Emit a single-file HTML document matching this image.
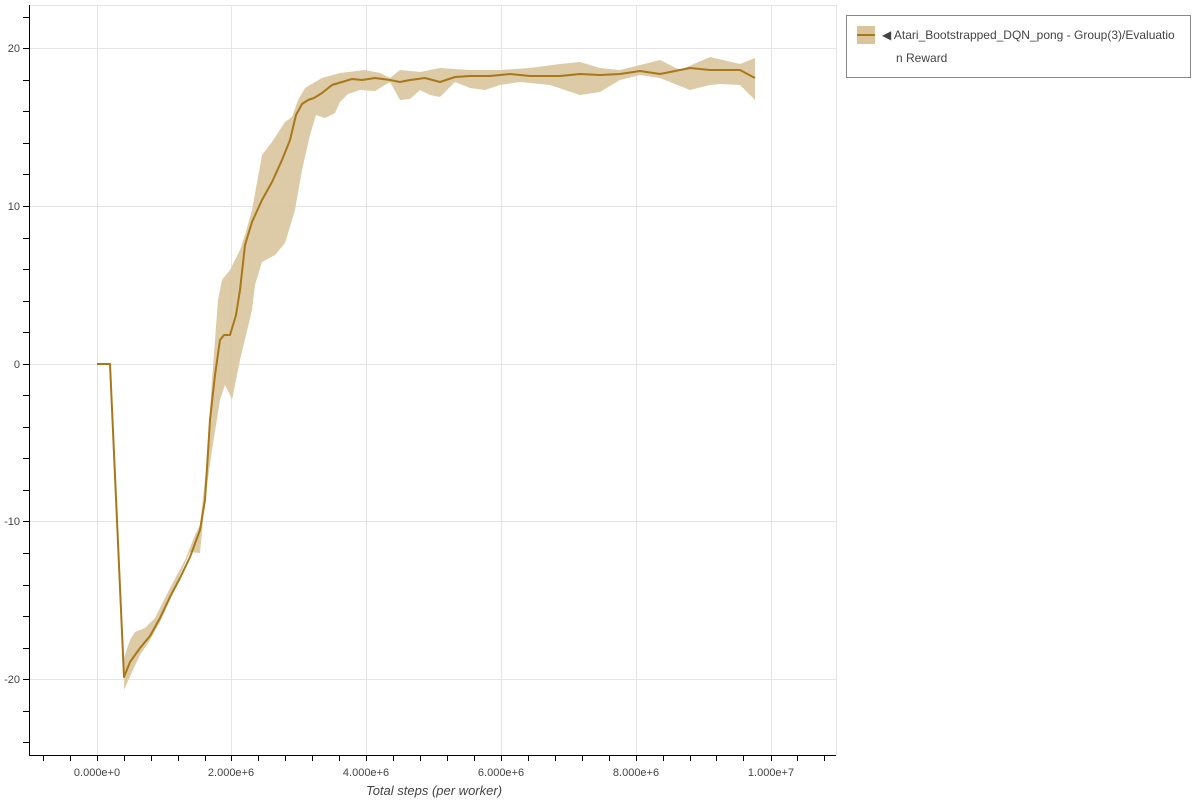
<!DOCTYPE html>
<html><head><meta charset="utf-8"><style>
body{margin:0;background:#fff;font-family:"Liberation Sans",sans-serif}
</style></head><body>
<svg width="1200" height="800" xmlns="http://www.w3.org/2000/svg" font-family="Liberation Sans, sans-serif">
<rect width="1200" height="800" fill="#fff"/>
<g stroke="#e5e5e5" stroke-width="1">
<line x1="97.5" y1="5" x2="97.5" y2="755"/><line x1="231.5" y1="5" x2="231.5" y2="755"/>
<line x1="366.5" y1="5" x2="366.5" y2="755"/><line x1="501.5" y1="5" x2="501.5" y2="755"/>
<line x1="636.5" y1="5" x2="636.5" y2="755"/><line x1="771.5" y1="5" x2="771.5" y2="755"/>
<line x1="29" y1="48.5" x2="836" y2="48.5"/><line x1="29" y1="206.5" x2="836" y2="206.5"/>
<line x1="29" y1="364.5" x2="836" y2="364.5"/><line x1="29" y1="521.5" x2="836" y2="521.5"/>
<line x1="29" y1="679.5" x2="836" y2="679.5"/>
<line x1="29" y1="5.5" x2="836" y2="5.5"/><line x1="836.5" y1="5" x2="836.5" y2="755"/>
</g>
<path fill="#d9c49c" fill-opacity="0.9" stroke="none" d="M124,658 L130,640 L135,632 L145,628 L155,618 L170,588 L185,560 L195,535 L200,525 L206,470 L212,380 L218,300 L222,280 L230,270 L240,250 L245,235 L252,210 L262,155 L272,142 L285,122 L292,117 L298,100 L305,88 L310,85 L322,78 L340,73 L365,70 L380,73 L390,78 L400,70 L420,72 L440,68 L470,70 L500,70 L530,68 L560,64 L580,62 L600,68 L620,70 L640,65 L660,60 L680,70 L710,57 L740,64 L755,58 L755,100 L740,85 L720,84 L710,85 L690,90 L660,78 L640,75 L620,80 L600,92 L580,95 L550,85 L520,82 L500,85 L485,90 L470,88 L455,82 L440,97 L430,95 L420,90 L410,99 L400,100 L390,82 L375,91 L360,90 L348,94 L340,102 L335,113 L325,118 L316,115 L310,135 L302,170 L295,210 L285,243 L275,255 L262,262 L255,285 L252,310 L240,360 L232,400 L230,395 L225,385 L220,400 L212,450 L205,500 L200,553 L190,552 L180,575 L170,600 L160,622 L150,640 L140,655 L132,672 L124,690 Z"/>
<path fill="none" stroke="#a87818" stroke-width="2" stroke-linejoin="round" d="M97,364 L110,364 L124,677 L130,662 L140,648 L150,636 L160,618 L170,597 L180,578 L190,557 L200,530 L205,500 L210,420 L215,375 L220,340 L224,335 L230,335 L236,315 L240,290 L245,245 L252,222 L262,200 L272,182 L282,160 L290,140 L296,115 L302,104 L308,100 L314,98 L322,93 L332,85 L342,82 L352,79 L362,80 L375,78 L390,80 L400,82 L410,80 L425,78 L440,82 L455,77 L470,76 L490,76 L510,74 L530,76 L560,76 L580,74 L600,75 L620,74 L640,71 L660,74 L690,68 L710,70 L740,70 L755,78"/>
<g stroke="#000" stroke-width="1">
<line x1="29.5" y1="5" x2="29.5" y2="756"/><line x1="29" y1="755.5" x2="836" y2="755.5"/>
<path d="M43.5,755V761M70.5,755V761M97.5,755V761M124.5,755V761M151.5,755V761M178.5,755V761M205.5,755V761M231.5,755V761M258.5,755V761M285.5,755V761M312.5,755V761M339.5,755V761M366.5,755V761M393.5,755V761M420.5,755V761M447.5,755V761M474.5,755V761M501.5,755V761M528.5,755V761M555.5,755V761M582.5,755V761M609.5,755V761M636.5,755V761M663.5,755V761M690.5,755V761M716.5,755V761M743.5,755V761M771.5,755V761M797.5,755V761M824.5,755V761"/>
<path d="M23,17.5H29M23,48.5H29M23,80.5H29M23,111.5H29M23,143.5H29M23,174.5H29M23,206.5H29M23,238.5H29M23,269.5H29M23,301.5H29M23,332.5H29M23,364.5H29M23,395.5H29M23,427.5H29M23,458.5H29M23,490.5H29M23,521.5H29M23,553.5H29M23,585.5H29M23,616.5H29M23,648.5H29M23,679.5H29M23,711.5H29M23,742.5H29"/>
</g>
<g font-size="11" fill="#444" text-anchor="middle">
<text x="97" y="776">0.000e+0</text><text x="231" y="776">2.000e+6</text>
<text x="366" y="776">4.000e+6</text><text x="501" y="776">6.000e+6</text>
<text x="636" y="776">8.000e+6</text><text x="771" y="776">1.000e+7</text>
</g>
<g font-size="11" fill="#444" text-anchor="end">
<text x="20" y="52">20</text><text x="20" y="210">10</text><text x="20" y="368">0</text>
<text x="20" y="525">-10</text><text x="20" y="683">-20</text>
</g>
<text x="434" y="795" font-size="13" font-style="italic" fill="#444" text-anchor="middle">Total steps (per worker)</text>
<rect x="846.5" y="15.5" width="344" height="62" fill="#fff" stroke="#888"/>
<rect x="857" y="26" width="18" height="18" fill="#d9c49c"/>
<line x1="857" y1="35" x2="875" y2="35" stroke="#a87818" stroke-width="2"/>
<text x="882" y="39" font-size="12" fill="#444">◀ Atari_Bootstrapped_DQN_pong - Group(3)/Evaluatio</text>
<text x="896" y="62" font-size="12" fill="#444">n Reward</text>
</svg>
</body></html>
